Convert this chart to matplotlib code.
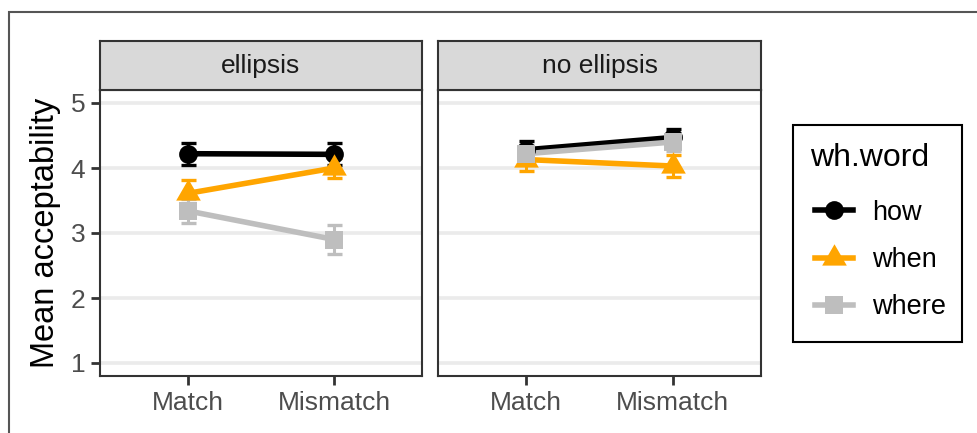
import matplotlib
matplotlib.use("Agg")
import matplotlib.pyplot as plt
from matplotlib.lines import Line2D
from matplotlib.patches import Rectangle

plt.rcParams['font.family'] = ['Liberation Sans', 'DejaVu Sans']

# ---- data ----
panels = ["ellipsis", "no ellipsis"]
matching = ["Match", "Mismatch"]
wh_words = ["how", "when", "where"]

# mean acceptability per wh-word, [Match, Mismatch]
mean_ellipsis = {"how": [4.22, 4.21], "when": [3.61, 4.00], "where": [3.34, 2.90]}
err_ellipsis = {"how": [0.17, 0.17], "when": [0.20, 0.16], "where": [0.19, 0.22]}
mean_no_ellipsis = {"how": [4.28, 4.47], "when": [4.13, 4.03], "where": [4.22, 4.40]}
err_no_ellipsis = {"how": [0.14, 0.13], "when": [0.17, 0.17], "where": [0.14, 0.14]}

y_ticks = [1, 2, 3, 4, 5]

# ---- styling ----
colors = {"how": "#000000", "when": "#FFA500", "where": "#BEBEBE"}
tri = [(-1, -0.577), (1, -0.577), (0, 1.155)]
markers = {"how": "o", "when": tri, "where": "s"}
msizes = {"how": 13.5, "when": 20.5, "where": 13.0}

W, H = 978, 433
fig = plt.figure(figsize=(W / 100, H / 100), dpi=100)

def fx(px):
    return px / W

def fy(px):
    return 1 - px / H

panel_boxes = [(100, 422), (438, 761)]
top_px, bot_px, strip_top = 90, 376, 41
frame_col = "#333333"

means_all = [mean_ellipsis, mean_no_ellipsis]
errs_all = [err_ellipsis, err_no_ellipsis]

for i, (name, (x0, x1)) in enumerate(zip(panels, panel_boxes)):
    ax = fig.add_axes([fx(x0), fy(bot_px), fx(x1 - x0), (bot_px - top_px) / H])
    xs = list(range(1, len(matching) + 1))
    means, errs = means_all[i], errs_all[i]
    for k, w in enumerate(wh_words):
        c = colors[w]
        ax.errorbar(xs, means[w], yerr=errs[w], fmt='none', ecolor=c,
                    elinewidth=2.2, capsize=5.4, capthick=2.4, zorder=3 + k * 0.01)
    for k, w in enumerate(wh_words):
        ax.plot(xs, means[w], color=colors[w], lw=4.0, zorder=4 + k * 0.01,
                solid_capstyle='butt')
    for k, w in enumerate(wh_words):
        ax.plot(xs, means[w], linestyle='none', marker=markers[w],
                markersize=msizes[w], color=colors[w], markeredgewidth=0,
                zorder=5 + k * 0.01)

    ax.set_xlim(0.4, 2.6)
    ax.set_ylim(0.8, 5.2)
    ax.set_yticks(y_ticks)
    ax.set_xticks(xs)
    ax.set_xticklabels(matching)
    for y in y_ticks:
        ax.axhline(y, color="#EBEBEB", lw=2.6, zorder=1)
    for sp in ax.spines.values():
        sp.set_color(frame_col)
        sp.set_linewidth(1.5)
        sp.set_zorder(10)
    ax.tick_params(axis='x', length=6.5, width=2.0, color=frame_col, pad=4,
                   labelsize=19, labelcolor="#4D4D4D")
    if i == 0:
        ax.tick_params(axis='y', length=6.5, width=2.0, color=frame_col, pad=4,
                       labelsize=19, labelcolor="#4D4D4D")
        ax.set_ylabel("Mean acceptability", fontsize=23.5, color="black", labelpad=7)
    else:
        ax.tick_params(axis='y', left=False, labelleft=False)

    # facet strip
    sax = fig.add_axes([fx(x0), fy(top_px), fx(x1 - x0), (top_px - strip_top) / H])
    sax.set_facecolor("#D9D9D9")
    sax.set_xticks([])
    sax.set_yticks([])
    for sp in sax.spines.values():
        sp.set_color(frame_col)
        sp.set_linewidth(1.5)
    sax.text(0.5, 0.5, name, ha='center', va='center', fontsize=19,
             color="#1A1A1A", transform=sax.transAxes)

# legend
handles = [Line2D([], [], color=colors[w], lw=4.0, marker=markers[w],
                  markersize=msizes[w], markeredgewidth=0) for w in wh_words]
leg = fig.legend(handles, wh_words, loc='center left',
                 bbox_to_anchor=(fx(815), fy(260)), frameon=False,
                 fontsize=19.5, handlelength=1.4, handletextpad=0.7,
                 labelspacing=0.78, borderpad=0.0, borderaxespad=0.0)
fig.text(fx(810), fy(158), "wh.word", ha='left', va='center', fontsize=23)
fig.patches.append(Rectangle((fx(793), fy(342)), fx(962 - 793), (342 - 125) / H,
                             transform=fig.transFigure, fill=False,
                             edgecolor="black", lw=1.5))

# outer border
fig.patches.append(Rectangle((fx(9), -0.2), 1.2, fy(11.5) + 0.2,
                             transform=fig.transFigure, fill=False,
                             edgecolor="#555555", lw=1.5))

fig.savefig("out.png", dpi=100)
